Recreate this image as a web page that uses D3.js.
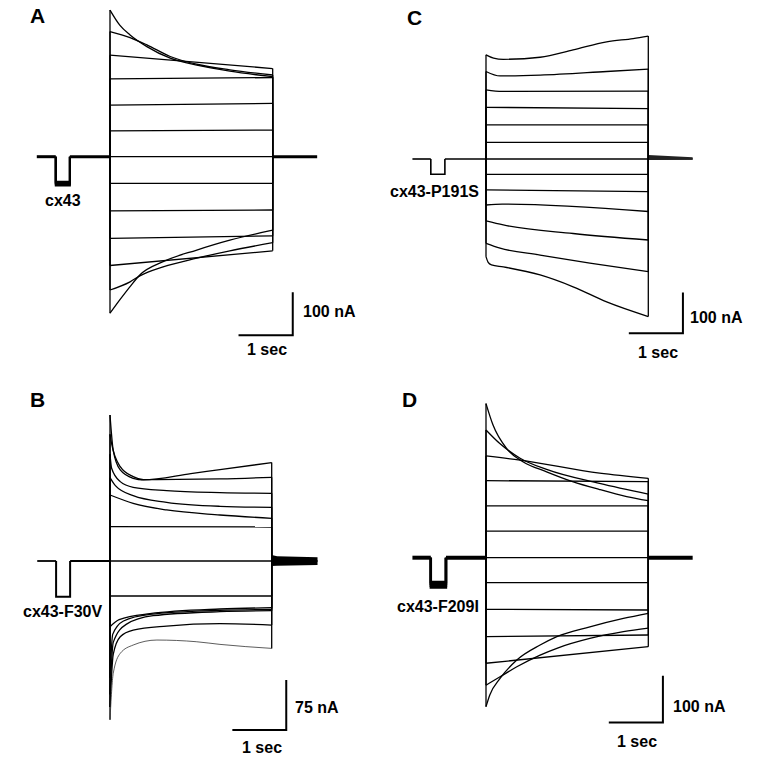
<!DOCTYPE html>
<html><head><meta charset="utf-8">
<script src="https://cdn.jsdelivr.net/npm/d3@7"></script>
<style>
body{margin:0;background:#fff}
svg{display:block}
text{font-family:"Liberation Sans",Arial,Helvetica,sans-serif;font-weight:bold;fill:#000}
</style>
</head><body>
<svg id="c" width="760" height="765"></svg>
<script>
// ---------- DATA (time in s from step onset, current in nA) ----------
const panelLetters = ["A", "B", "C", "D"];
const cellNames = ["cx43", "cx43-F30V", "cx43-P191S", "cx43-F209I"];
const scaleLabels = ["100 nA", "75 nA", "100 nA", "100 nA"];
const timeLabel = "1 sec";

const tracesA = [
  [[0,341],[0.18,306],[0.37,283],[0.68,256],[1.11,229],[1.6,213],[2.21,199],[3,186]],
  [[0,291],[0.37,277],[0.68,260],[1.11,233],[1.6,215],[2.21,202],[3,190]],
  [[0,236],[3,205]],
  [[0,181],[3,184]],
  [[0,120],[3,124]],
  [[0,60],[3,62]],
  [[0,0],[3,0]],
  [[0,-62],[3,-62]],
  [[0,-126],[3,-124]],
  [[0,-190],[3,-184]],
  [[0,-253],[3,-219]],
  [[0,-310],[0.37,-291],[0.55,-277],[0.98,-256],[1.6,-236],[2.21,-219],[3,-200]],
  [[0,-364],[0.18,-333],[0.37,-302],[0.55,-275],[0.98,-244],[1.6,-217],[2.21,-194],[3,-171]]
];
const tracesB = [
  [[0,219],[0.06,166],[0.19,136.5],[0.43,124],[0.62,121.5],[1.5,131],[2.04,137],[3,147.5]],
  [[0,190],[0.03,176],[0.19,141.5],[0.43,126.5],[0.62,122],[2.04,123],[3,125.5]],
  [[0,160],[0.03,139],[0.19,119],[0.43,110.5],[1.05,105.5],[2.04,102.5],[3,101.5]],
  [[0,125],[0.1,113],[0.43,98],[1.05,88],[2.04,82],[3,80.5]],
  [[0,99],[0.43,86.5],[1.05,76.5],[2.04,69],[3,64]],
  [[0,51.5],[3,51]],
  [[0,0],[3,0]],
  [[0,-52.5],[3,-52.5]],
  [[0,-98.5],[0.17,-88],[0.74,-79],[2.04,-72],[3,-70]],
  [[0,-175],[0.05,-110],[0.25,-90],[0.74,-80],[2.04,-74],[3,-72.5]],
  [[0,-200],[0.06,-122],[0.3,-95],[0.8,-82],[2.04,-76],[3,-74.5]],
  [[0,-219],[0.06,-140],[0.19,-113.5],[0.43,-103.5],[1.05,-97.5],[2.04,-94],[3,-96]],
  [[0,-238],[0.06,-168.5],[0.19,-138.5],[0.43,-126],[0.87,-118.5],[1.6,-121],[2.04,-125],[3,-131]]
];
const tracesC = [
  [[0,256],[0.14,248],[0.32,245],[1.0,250],[1.61,268],[2.23,288],[2.72,296],[3,302]],
  [[0,215],[0.26,204],[1.0,206],[2.23,215],[3,221]],
  [[0,170],[0.3,166],[3,167]],
  [[0,127],[3,124]],
  [[0,84],[3,84]],
  [[0,41],[3,41]],
  [[0,0],[3,0]],
  [[0,-38],[3,-38]],
  [[0,-76],[3,-80]],
  [[0,-113],[0.3,-111],[3,-129]],
  [[0,-152],[0.32,-162],[1.61,-183],[3,-199]],
  [[0,-207],[0.26,-219],[1.0,-236],[1.92,-256],[3,-277]],
  [[0,-240],[0.04,-254],[0.1,-260],[0.32,-265],[1.0,-285],[1.61,-314],[2.23,-351],[3,-387]]
];
const tracesD = [
  [[0,330],[0.13,284],[0.38,234],[0.69,205],[1.12,184],[1.6,163],[2.1,146],[2.6,131],[3,122]],
  [[0,273.5],[0.25,245],[0.63,213],[1.12,189],[2.1,159],[3,136]],
  [[0,218],[0.63,209],[2.1,181],[3,170]],
  [[0,165],[3,163]],
  [[0,111],[3,111]],
  [[0,57],[3,57]],
  [[0,0],[3,0]],
  [[0,-53.5],[3,-53.5]],
  [[0,-110.5],[3,-112]],
  [[0,-169],[3,-165.5]],
  [[0,-226],[3,-190.5]],
  [[0,-273],[0.26,-255],[0.57,-233.5],[1,-208.5],[1.31,-194],[1.92,-173],[2.54,-158.5],[3,-151]],
  [[0,-319],[0.07,-294],[0.26,-258.5],[0.57,-219],[1,-187],[1.31,-169],[1.92,-148],[2.54,-130],[3,-119]]
];
// holding record: [start, prepulse on, prepulse off, end]  (s)
const holdTimesA = [-1.35, -1.0, -0.74, 3.82];
const holdTimesB = [-1.35, -1.0, -0.74, 3.85];
const holdTimesC = [-1.36, -1.02, -0.76, 3.82];
const holdTimesD = [-1.36, -1.02, -0.74, 3.82];
// prepulse current levels (nA)
const prepulseA = [-58, -61, -64, -67];
const prepulseB = [-53.5];
const prepulseC = [-37.6];
const prepulseD = [-52, -56, -60, -64];
// post-step tail envelopes: times, upper, lower (nA)
const tailTimesB = [3.0, 3.1, 3.85];
const tailHiB = [9, 7, 5.5];
const tailLoB = [-7.5, -7, -6];
const tailTimesC = [3.0, 3.82];
const tailHiC = [10, 4.5];
const tailLoC = [-2.5, -1];
// scale bars: [corner time, corner current, current bar size]
const scaleBarA = [3.37, -415, 100];
const scaleBarB = [3.27, -253.5, 75];
const scaleBarC = [3.64, -428, 100];
const scaleBarD = [3.27, -353, 100];

// ---------- LAYOUT ----------
const layout = [
  {traces: tracesA, hold: holdTimesA, pre: prepulseA, bar: scaleBarA, tail: null,
   x0: 110, pxSec: 54.23, base: 156.7, px100: 43, holdW: 3, preW: 2,
   letter: [30, 23], name: [45, 206], ylab: [303, 317], xlab: [247, 355]},
  {traces: tracesB, hold: holdTimesB, pre: prepulseB, bar: scaleBarB, tail: [tailTimesB, tailHiB, tailLoB],
   x0: 110, pxSec: 53.9, base: 561, px100: 66.7, holdW: 1.8, preW: 2,
   letter: [30, 407], name: [23, 617], ylab: [295, 713], xlab: [242, 753]},
  {traces: tracesC, hold: holdTimesC, pre: prepulseC, bar: scaleBarC, tail: [tailTimesC, tailHiC, tailLoC],
   x0: 486, pxSec: 54.1, base: 159, px100: 40.7, holdW: 1.6, preW: 1.6,
   letter: [407, 25], name: [390, 197], ylab: [690, 323], xlab: [638, 358]},
  {traces: tracesD, hold: holdTimesD, pre: prepulseD, bar: scaleBarD, tail: null,
   x0: 486, pxSec: 54.1, base: 557.7, px100: 46.7, holdW: 4, preW: 2.4,
   letter: [402, 407], name: [397, 612], ylab: [673, 712], xlab: [617, 747]}
];

const svg = d3.select("#c");

layout.forEach((p, i) => {
  const x = d3.scaleLinear().domain([0, 1]).range([p.x0, p.x0 + p.pxSec]);
  const y = d3.scaleLinear().domain([0, 100]).range([p.base, p.base - p.px100]);
  const g = svg.append("g");
  const lin = d3.line().x(d => x(d[0])).y(d => y(d[1]));
  const smooth = d3.line().x(d => x(d[0])).y(d => y(d[1])).curve(d3.curveMonotoneX);

  // holding current before / after the step
  const h = p.hold;
  [[[h[0],0],[h[1],0]], [[h[2],0],[0,0]], [[3,0],[h[3],0]]].forEach(seg => {
    g.append("path").attr("d", lin(seg))
      .attr("fill","none").attr("stroke","#000").attr("stroke-width", p.holdW);
  });
  // prepulse
  p.pre.forEach(v => {
    g.append("path").attr("d", lin([[h[1],0],[h[1],v],[h[2],v],[h[2],0]]))
      .attr("fill","none").attr("stroke","#000").attr("stroke-width", p.preW)
      .attr("stroke-linejoin","miter");
  });

  // tail envelope
  if (p.tail) {
    const [tt, hi, lo] = p.tail;
    const area = d3.area().x(d => x(d.t)).y0(d => y(d.lo)).y1(d => y(d.hi));
    g.append("path").attr("d", area(tt.map((t, k) => ({t, hi: hi[k], lo: lo[k]}))))
      .attr("fill", i === 2 ? "#222" : "#000");
  }

  // step traces
  p.traces.forEach((tr, k) => {
    const thin = (i === 1 && k === p.traces.length - 1);
    const sw = thin ? 0.8 : 1.3;
    const col = thin ? "#333" : "#000";
    const first = tr[0], last = tr[tr.length - 1];
    g.append("path").attr("d", lin([[0,0],[first[0], first[1]]]))
      .attr("fill","none").attr("stroke","#000").attr("stroke-width",1.3);
    g.append("path").attr("d", lin([[last[0], last[1]],[3,0]]))
      .attr("fill","none").attr("stroke","#000").attr("stroke-width",1.3);
    g.append("path").attr("d", smooth(tr))
      .attr("fill","none").attr("stroke",col).attr("stroke-width",sw);
  });

  // scale bar
  const [bt, bi, bsize] = p.bar;
  g.append("path").attr("d", lin([[bt, bi + bsize],[bt, bi],[bt - 1, bi]]))
    .attr("fill","none").attr("stroke","#000").attr("stroke-width",2)
    .attr("stroke-linejoin","miter");

  // texts
  g.append("text").attr("x", p.letter[0]).attr("y", p.letter[1])
    .attr("font-size", 21).text(panelLetters[i]);
  g.append("text").attr("x", p.name[0]).attr("y", p.name[1])
    .attr("font-size", 16).text(cellNames[i]);
  g.append("text").attr("x", p.ylab[0]).attr("y", p.ylab[1])
    .attr("font-size", 16).text(scaleLabels[i]);
  g.append("text").attr("x", p.xlab[0]).attr("y", p.xlab[1])
    .attr("font-size", 16).text(timeLabel);
});
</script>
</body></html>
